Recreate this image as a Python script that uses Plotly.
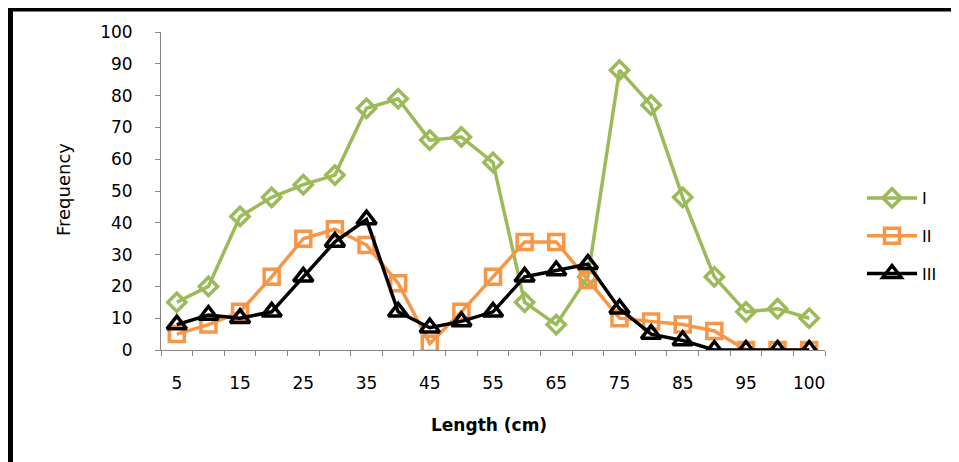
import plotly.graph_objects as go

# Data
length_labels = ["5", "10", "15", "20", "25", "30", "35", "40", "45", "50",
                 "55", "60", "65", "70", "75", "80", "85", "90", "95", "", "100"]
series_I = [15, 20, 42, 48, 52, 55, 76, 79, 66, 67, 59, 15, 8, 23, 88, 77, 48, 23, 12, 13, 10]
series_II = [5, 8, 12, 23, 35, 38, 33, 21, 2, 12, 23, 34, 34, 22, 10, 9, 8, 6, 0, 0, 0]
series_III = [8, 11, 10, 12, 23, 34, 41, 12, 7, 9, 12, 23, 25, 27, 13, 5, 3, 0, 0, 0, 0]
y_ticks = [0, 10, 20, 30, 40, 50, 60, 70, 80, 90, 100]

x_pos = list(range(len(length_labels)))
label_pos = [i for i in x_pos if i % 2 == 0]
label_txt = [length_labels[i] for i in label_pos]

OFF = 8  # default page body margin
W, H = 959, 462
pw, ph = 664, 318
L = 161 - OFF
T = 32 - OFF
R = W - L - pw
B = H - T - ph

def px_x(px):  # screen px -> paper
    return (px - OFF - L) / pw

def px_y(py):
    return (T + ph - (py - OFF)) / ph

fig = go.Figure()
specs = [
    ("I", series_I, "#9BBB59", "diamond-open", 14),
    ("II", series_II, "#F79646", "square-open", 15),
    ("III", series_III, "#000000", "triangle-up-open", 17),
]
for name, vals, col, sym, sz in specs:
    fig.add_trace(go.Scatter(
        x=x_pos, y=vals, name=name, mode="lines+markers",
        line=dict(color=col, width=3.5),
        marker=dict(symbol=sym, size=sz, color=col, line=dict(color=col, width=3.5)),
        legendgroup=name,
    ))

axis_col = "#868686"
fig.update_xaxes(
    range=[-0.5, 20.5], tickmode="array", tickvals=label_pos, ticktext=label_txt,
    ticks="", showline=True, linecolor=axis_col, linewidth=1, showgrid=False, zeroline=False,
    tickfont=dict(family="DejaVu Sans", size=17, color="#000"),
    ticklabelstandoff=18,
    minor=dict(tickmode="linear", tick0=-0.5, dtick=1, ticks="outside", ticklen=5,
               tickcolor=axis_col, tickwidth=1, showgrid=False),
)
fig.update_yaxes(
    range=[0, 100], tickmode="array", tickvals=y_ticks,
    ticks="outside", ticklen=5, tickcolor=axis_col, tickwidth=1,
    showline=True, linecolor=axis_col, linewidth=1, showgrid=False, zeroline=False,
    tickfont=dict(family="DejaVu Sans", size=17, color="#000"),
    ticklabelstandoff=19,
)

fig.add_annotation(text="Frequency", xref="paper", yref="paper", x=px_x(63), y=px_y(190),
                   textangle=-90, showarrow=False, xanchor="center", yanchor="middle",
                   font=dict(family="DejaVu Sans", size=18, color="#000"))
fig.add_annotation(text="<b>Length (cm)</b>", xref="paper", yref="paper", x=px_x(489), y=px_y(425),
                   showarrow=False, xanchor="center", yanchor="middle",
                   font=dict(family="DejaVu Sans", size=17, color="#000"))

# outer chart border (left and top only visible)
fig.add_shape(type="line", xref="paper", yref="paper", x0=px_x(10.5), x1=px_x(10.5),
              y0=px_y(7), y1=px_y(480), line=dict(color="#000", width=5))
fig.add_shape(type="line", xref="paper", yref="paper", x0=px_x(8), x1=px_x(990),
              y0=px_y(9), y1=px_y(9), line=dict(color="#000", width=5))

fig.update_layout(
    width=W, height=H, margin=dict(l=L, r=R, t=T, b=B, autoexpand=False),
    paper_bgcolor="white", plot_bgcolor="white",
    showlegend=True,
    legend=dict(x=px_x(862), y=px_y(236), xanchor="left", yanchor="middle",
                font=dict(family="DejaVu Sans", size=16, color="#000"),
                tracegroupgap=14, itemwidth=50, bgcolor="rgba(0,0,0,0)"),
)

fig.write_html("out.html")
